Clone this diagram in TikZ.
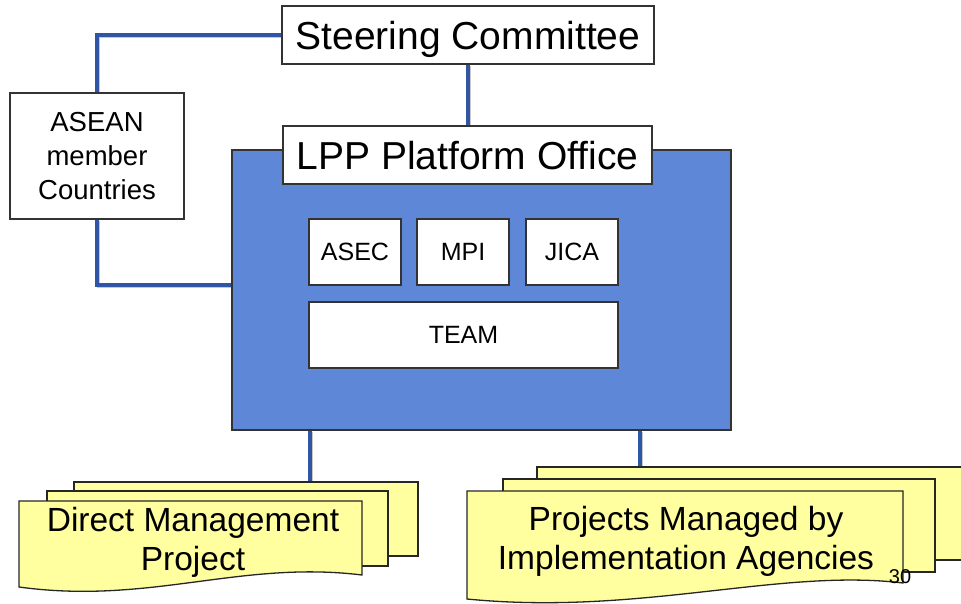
\documentclass[tikz,border=0pt]{standalone}
\usepackage{fontspec}
\setmainfont{Liberation Sans}
\definecolor{boxblue}{HTML}{5F87D8}
\definecolor{linkblue}{HTML}{2F55A4}
\definecolor{docyellow}{HTML}{FFFFA0}
\definecolor{shade}{HTML}{C8C8C8}
\begin{document}
\begin{tikzpicture}[x=1pt,y=-1pt,
  wbox/.style={draw=black!80, line width=1.3pt, fill=white, inner sep=0pt, align=center},
  link/.style={draw=linkblue, line width=3.2pt},
  linkshadow/.style={draw=shade, line width=3.2pt, transform canvas={xshift=1.5pt,yshift=-1.8pt}},
  docback/.style={draw=black!85, line width=1.3pt, fill=docyellow},
  bigtext/.style={font=\fontsize{39}{44}\selectfont},
  midtext/.style={font=\fontsize{33.5}{39}\selectfont},
  asntext/.style={font=\fontsize{27.5}{34}\selectfont},
  innertext/.style={font=\fontsize{25}{29}\selectfont},
  pagetext/.style={font=\fontsize{20}{22}\selectfont}]
\useasboundingbox (0,0) rectangle (961,604);
% coordinates
\coordinate (scL) at (282,35);
\coordinate (corn1) at (97,35);
\coordinate (asTop) at (97,93);
\coordinate (asBot) at (97,219);
\coordinate (corn2) at (97,285);
\coordinate (pfL) at (232,285);
\coordinate (scB) at (468,64);
\coordinate (lppT) at (468,126);
\coordinate (pfB1) at (310,430);
\coordinate (dTop) at (310,482);
\coordinate (pfB2) at (640,430);
\coordinate (pTop) at (640,467);
% connector shadows
\draw[linkshadow] (scL) -- (corn1) -- (asTop);
\draw[linkshadow] (asBot) -- (corn2) -- (pfL);
\draw[linkshadow] (scB) -- (lppT);
\draw[linkshadow] (pfB1) -- (dTop);
\draw[linkshadow] (pfB2) -- (pTop);
% connectors
\draw[link] (scL) -- (corn1) -- (asTop);
\draw[link] (asBot) -- (corn2) -- (pfL);
\draw[link] (scB) -- (lppT);
\draw[link] (pfB1) -- (dTop);
\draw[link] (pfB2) -- (pTop);
% platform blue box
\node[draw=black!80, line width=1.3pt, fill=boxblue, minimum width=499pt, minimum height=280pt, inner sep=0pt] (pf) at (481.5,290) {};
% top boxes
\node[wbox, bigtext, text depth=0pt, minimum width=372pt, minimum height=58pt] (sc) at (468,35) {Steering Committee};
\node[wbox, bigtext, text depth=0pt, minimum width=369pt, minimum height=58pt] (lpp) at (467.5,155) {LPP Platform Office};
\node[wbox, asntext, minimum width=174pt, minimum height=126pt] (asean) at (97,156) {ASEAN\\member\\Countries};
% inner boxes
\node[wbox, innertext, minimum width=92pt, minimum height=66pt] (asec) at (355,252) {ASEC};
\node[wbox, innertext, minimum width=92pt, minimum height=66pt] (mpi) at (463,252) {MPI};
\node[wbox, innertext, minimum width=92pt, minimum height=66pt] (jica) at (572,252) {JICA};
\node[wbox, innertext, minimum width=309pt, minimum height=66pt] (team) at (463.5,335) {TEAM};
% left document stack
\draw[docback] (74,482) rectangle (418,556);
\draw[docback] (47,491) rectangle (388,566);
\draw[docback] (19,501) -- (362,501) -- (362,575) .. controls (240,560) and (150,605) .. (19,587) -- cycle;
\node[midtext, align=center] (dmp) at (193,542.5) {Direct Management\\Project};
% right document stack
\draw[docback] (537,467) rectangle (968,560);
\draw[docback] (503,479) rectangle (935,572);
\draw[docback] (467,491) -- (903,491) -- (903,583) .. controls (780,568) and (640,616) .. (467,599) -- cycle;
\node[midtext, align=center] (pmia) at (686,541.5) {Projects Managed by\\Implementation Agencies};
\node[pagetext] (pg) at (900,577) {30};
\end{tikzpicture}
\end{document}
